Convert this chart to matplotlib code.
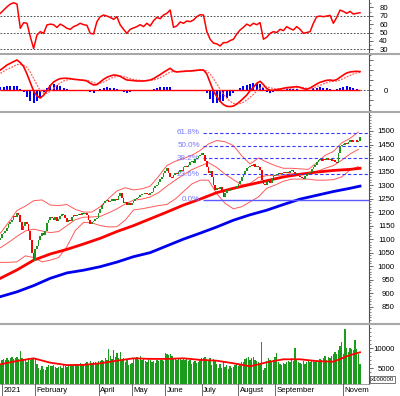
import numpy as np
import matplotlib
matplotlib.use('Agg')
import matplotlib.pyplot as plt
from matplotlib.lines import Line2D
from matplotlib.transforms import Bbox, TransformedBbox

plt.rcParams['font.family'] = ['Liberation Sans', 'DejaVu Sans']

# x axis is the trading-day index, day 0 = last session of 2020
month_days = [1, 21, 59, 79, 99, 121, 143, 165, 206]
month_names = ['2021', 'February', 'April', 'May', 'June', 'July', 'August',
               'September', 'November']

# daily closes (VN-Index)
closes = [
    1103, 1120, 1121, 1131, 1141, 1157, 1165, 1172, 1185, 1183,
    1196, 1188, 1165, 1134, 1150, 1162, 1155, 1130, 1095, 1050,
    1020, 1065, 1075, 1095, 1112, 1123, 1117, 1130, 1160, 1170,
    1180, 1178, 1172, 1180, 1168, 1175, 1185, 1192, 1190, 1178,
    1165, 1172, 1168, 1180, 1188, 1185, 1190, 1194, 1190, 1196,
    1192, 1197, 1190, 1170, 1155, 1162, 1168, 1175, 1178, 1195,
    1210, 1225, 1235, 1240, 1246, 1238, 1240, 1248, 1240, 1250,
    1245, 1258, 1270, 1252, 1235, 1238, 1228, 1232, 1225, 1235,
    1240, 1248, 1252, 1256, 1262, 1266, 1268, 1272, 1268, 1262,
    1270, 1275, 1288, 1295, 1300, 1312, 1322, 1330, 1345, 1352,
    1362, 1345, 1330, 1325, 1338, 1345, 1340, 1350, 1355, 1352,
    1365, 1370, 1368, 1375, 1385, 1390, 1382, 1395, 1400, 1408,
    1412, 1420, 1410, 1390, 1365, 1345, 1352, 1330, 1300, 1280,
    1290, 1285, 1292, 1278, 1255, 1270, 1282, 1278, 1285, 1280,
    1290, 1288, 1298, 1305, 1315, 1330, 1340, 1352, 1362, 1368,
    1372, 1370, 1378, 1368, 1372, 1365, 1355, 1320, 1305, 1300,
    1310, 1315, 1308, 1325, 1332, 1338, 1342, 1345, 1340, 1343,
    1350, 1346, 1350, 1345, 1352, 1355, 1348, 1340, 1345, 1335,
    1330, 1325, 1322, 1335, 1340, 1345, 1350, 1358, 1365, 1375,
    1385, 1392, 1395, 1390, 1398, 1394, 1400, 1392, 1395, 1388,
    1392, 1385, 1382, 1420, 1445, 1448, 1450, 1455, 1452, 1460,
    1465, 1458, 1465, 1468, 1460, 1462, 1478,
]
first_open = 1096

# daily volume (x100000)
volumes = [
    5800, 7200, 7300, 7000, 7500, 7200, 7600, 7800, 7400, 7700,
    7900, 7300, 9300, 7600, 7000, 7400, 6700, 7600, 7200, 7500,
    7600, 7400, 6000, 5100, 4700, 5600, 4800, 4600, 5400, 5800,
    5700, 5500, 5800, 5300, 5000, 5400, 5600, 5200, 6000, 5500,
    5300, 5800, 6000, 5700, 6200, 5900, 6100, 5600, 6300, 6000,
    5800, 6400, 6600, 6200, 6900, 6300, 6500, 6700, 6100, 6800,
    6900, 7200, 6800, 7500, 7000, 9800, 8200, 7400, 9500, 7800,
    8800, 7600, 9000, 7200, 7700, 6600, 7000, 5800, 6200, 6400,
    7600, 7300, 7900, 7000, 8000, 7200, 7500, 6900, 6700, 7300,
    7000, 6600, 6800, 6400, 7100, 6800, 7200, 7000, 6900, 8800,
    8700, 8400, 8600, 8200, 7600, 7300, 7000, 7400, 7700, 7200,
    7500, 7100, 7300, 6800, 7000, 6200, 6700, 6900, 6300, 6600,
    7200, 7700, 7500, 7800, 7400, 7000, 7600, 5900, 7300, 6800,
    6000, 5200, 6100, 5000, 6700, 5400, 5800, 4800, 5600, 5000,
    5300, 5900, 6000, 5500, 6200, 6500, 6700, 7300, 7600, 7800,
    7200, 7500, 7900, 7000, 6900, 6500, 6000, 11500, 4700, 5200,
    6800, 7500, 7000, 6600, 7200, 7800, 8900, 6500, 6000, 5800,
    6300, 6100, 6500, 6900, 6600, 7700, 6900, 10200, 7200, 6500,
    6400, 6000, 6800, 6200, 6500, 7000, 6700, 7100, 6800, 6600,
    7000, 6800, 7300, 7200, 7600, 8000, 7100, 7800, 7500, 8200,
    8700, 9200, 8600, 9600, 10500, 11500, 8500, 14800, 10000, 9000,
    10200, 9800, 9600, 12200, 9900, 8500, 6000,
]

# moving averages, sampled every 10 sessions
ma_days = [0, 10, 20, 30, 40, 50, 60, 70, 80, 90, 100, 110, 120, 130, 140,
           150, 160, 170, 180, 190, 200, 210, 216]
ma_red = [955, 986, 1022, 1045, 1062, 1082, 1103, 1128, 1150, 1175, 1200, 1226,
          1248, 1272, 1288, 1302, 1316, 1330, 1340, 1348, 1354, 1358, 1362]
ma_blue = [887, 905, 928, 955, 975, 985, 998, 1015, 1035, 1050, 1075, 1100,
           1122, 1145, 1170, 1190, 1207, 1228, 1248, 1262, 1276, 1288, 1296]
vol_ma = [6000, 6830, 7500, 6400, 5800, 5850, 6250, 6900, 7500, 7350, 7350, 7500,
          7100, 6900, 6250, 5500, 6500, 7250, 7250, 6800, 6650, 8300, 9000]

# bollinger bands, sampled every 5 sessions
bb_mid = [1068, 1088, 1110, 1130, 1137, 1130, 1124, 1128, 1150, 1172, 1181, 1182,
          1184, 1197, 1212, 1230, 1244, 1248, 1256, 1272, 1296, 1318, 1338, 1357,
          1370, 1383, 1365, 1340, 1320, 1300, 1306, 1328, 1335, 1335, 1338, 1342,
          1341, 1340, 1350, 1362, 1372, 1392, 1415, 1432]
bb_up = [1122, 1162, 1206, 1222, 1242, 1245, 1226, 1224, 1228, 1210, 1200, 1200,
         1220, 1250, 1278, 1290, 1282, 1286, 1296, 1332, 1372, 1388, 1398, 1410,
         1428, 1452, 1465, 1460, 1446, 1408, 1378, 1400, 1385, 1372, 1362, 1362,
         1360, 1358, 1382, 1410, 1424, 1456, 1473, 1496]
bb_lo = [1014, 1014, 1016, 1038, 1032, 1016, 1022, 1032, 1072, 1132, 1162, 1160,
         1150, 1145, 1146, 1170, 1208, 1212, 1218, 1224, 1228, 1248, 1276, 1304,
         1318, 1318, 1268, 1232, 1212, 1220, 1238, 1256, 1288, 1300, 1314, 1322,
         1322, 1322, 1318, 1318, 1320, 1330, 1356, 1368]

# RSI and MACD, sampled every 2 sessions
rsi = [
    72.8, 76.7, 80.6, 83.8, 85.4, 83.8, 55.0, 61.7, 61.0, 45.0,
    31.0, 47.0, 51.0, 49.0, 59.0, 60.0, 59.3, 56.0, 60.0, 57.8,
    55.0, 53.8, 57.0, 58.6, 61.0, 59.3, 58.6, 49.0, 48.3, 62.9,
    68.8, 70.8, 69.6, 68.0, 65.7, 68.8, 59.0, 53.8, 49.0, 53.8,
    55.4, 57.0, 59.3, 57.0, 61.0, 57.8, 64.0, 68.0, 66.4, 70.8,
    72.8, 76.7, 56.2, 57.8, 62.5, 61.0, 63.7, 62.9, 64.9, 68.8,
    71.2, 70.8, 51.0, 42.0, 37.3, 36.5, 34.0, 38.0, 38.0, 40.4,
    42.0, 48.3, 53.0, 56.2, 60.0, 57.8, 61.0, 59.3, 61.7, 42.0,
    44.4, 49.0, 51.0, 50.0, 53.8, 52.2, 57.0, 54.6, 53.0, 57.0,
    53.8, 49.0, 50.0, 51.0, 61.0, 68.8, 69.6, 68.8, 69.6, 70.4,
    61.0, 68.0, 76.7, 75.1, 72.8, 75.1, 72.0, 72.8, 73.5,
]
macd = [
    20.3, 22.7, 25.3, 27.0, 28.7, 30.3, 27.7, 23.7, 16.3, 7.7,
    -0.7, -5.7, -7.7, -5.0, -0.3, 4.7, 8.3, 10.3, 11.7, 12.0,
    12.0, 11.7, 11.0, 10.7, 10.3, 10.0, 9.3, 7.0, 5.3, 5.7,
    8.3, 11.0, 13.0, 14.3, 15.3, 15.0, 14.0, 12.0, 10.3, 10.0,
    9.7, 9.3, 9.3, 9.3, 9.7, 10.3, 11.7, 13.7, 15.7, 18.0,
    20.0, 22.0, 19.3, 18.3, 18.7, 19.0, 19.3, 19.3, 19.7, 20.0,
    20.3, 20.3, 16.3, 7.7, -0.7, -6.3, -11.0, -14.3, -16.0, -16.3,
    -15.7, -13.7, -11.0, -8.0, -4.7, -0.3, 3.0, 7.0, 9.0, 5.7,
    1.7, 0.0, 0.0, 0.7, 1.3, 2.0, 2.7, 3.0, 3.3, 3.7,
    3.0, 1.7, 1.0, 2.3, 4.3, 6.3, 8.0, 9.0, 10.0, 10.3,
    9.7, 10.7, 13.0, 15.3, 17.3, 18.3, 18.7, 19.0, 18.7,
]
signal = [
    17.0, 19.0, 21.0, 22.3, 24.0, 25.7, 26.0, 25.0, 23.0, 18.0,
    12.0, 5.3, -0.3, -3.0, -3.0, -1.0, 2.0, 5.0, 7.3, 9.3,
    10.3, 11.0, 11.0, 11.0, 10.7, 10.3, 10.0, 9.0, 7.7, 6.7,
    7.0, 8.3, 10.0, 11.7, 13.0, 14.0, 14.3, 13.7, 12.7, 11.7,
    10.7, 10.3, 10.0, 9.7, 9.7, 10.0, 10.3, 11.3, 12.7, 14.3,
    16.3, 18.3, 18.7, 18.7, 18.7, 18.7, 19.0, 19.0, 19.3, 19.7,
    20.0, 20.0, 19.3, 16.3, 11.7, 6.3, 1.0, -4.0, -8.0, -11.0,
    -13.0, -13.7, -13.3, -12.0, -9.7, -7.0, -4.0, -0.7, 2.3, 3.3,
    3.3, 2.7, 1.7, 1.3, 1.3, 1.3, 1.7, 2.0, 2.3, 2.7,
    2.7, 2.7, 2.0, 1.7, 2.3, 3.7, 5.0, 6.3, 7.7, 8.7,
    9.0, 9.3, 10.3, 11.7, 13.3, 15.0, 16.3, 17.3, 18.0,
]

# fibonacci retracement
fib_low, fib_high = 1245, 1647
fib_levels = [0.0, 23.6, 38.2, 50.0, 61.8]

W, H = 400, 396
XMIN, XMAX = -0.2, 221.4


def panel(fig, top, bottom):
    ax = fig.add_axes([0, 1 - bottom / H, 369 / W, (bottom - top) / H])
    for s in ['top', 'left', 'bottom']:
        ax.spines[s].set_visible(False)
    ax.spines['right'].set_color('#505050')
    ax.spines['right'].set_linewidth(0.8)
    ax.yaxis.tick_right()
    ax.tick_params(axis='y', which='major', length=3, width=0.6, colors='#505050',
                   labelcolor='black', labelsize=5.6)
    ax.tick_params(axis='y', which='minor', length=1.6, width=0.5, colors='#505050')
    ax.tick_params(axis='x', which='both', bottom=False, labelbottom=False)
    ax.set_xlim(XMIN, XMAX)
    return ax


def right_labels(ax, pad):
    ax.tick_params(axis='y', which='major', pad=pad)
    for lab in ax.get_yticklabels():
        lab.set_ha('right')


fig = plt.figure(figsize=(W / 100, H / 100), dpi=100)

ax_rsi = panel(fig, 0, 52.5)
ax_macd = panel(fig, 54.5, 110.5)
ax_main = panel(fig, 112.5, 322.5)
ax_vol = panel(fig, 324.5, 384)

days = np.arange(len(closes))
cl = np.array(closes, dtype=float)
op = np.concatenate([[first_open], cl[:-1]])

# RSI
x2 = np.arange(len(rsi)) * 2
for lvl in [30, 50, 70]:
    ax_rsi.axhline(lvl, color='#303030', lw=0.6, ls=(0, (2, 2)))
ax_rsi.plot(x2, rsi, color='#ff0000', lw=1.1)
ax_rsi.set_ylim(26.2, 88.7)
ax_rsi.set_yticks(range(30, 81, 10))
ax_rsi.set_yticks(range(30, 90, 5), minor=True)
right_labels(ax_rsi, 10.5)

# MACD
xm = np.arange(len(macd)) * 2
hist = np.array(macd) - np.array(signal)
ax_macd.axhline(0, color='#303030', lw=0.6, ls=(0, (2, 2)))
ax_macd.bar(xm, hist, width=1.2, color='#0000ff', linewidth=0)
ax_macd.hlines(0, xm[0], xm[-1], colors='#ff0000', lw=1.0, zorder=3)
ax_macd.plot(xm, signal, color='#ff6060', lw=0.9, ls=(0, (1.5, 1)), zorder=4)
ax_macd.plot(xm, macd, color='#ff0000', lw=1.2, zorder=5)
ax_macd.set_ylim(-20.2, 35.8)
ax_macd.set_yticks([-10, 0, 10, 20, 30])
ax_macd.set_yticklabels(['', '0', '', '', ''])
ax_macd.set_yticks(range(-20, 36, 5), minor=True)
right_labels(ax_macd, 10.5)

# main price panel
x5 = np.arange(len(bb_mid)) * 5
for band in [bb_up, bb_mid, bb_lo]:
    ax_main.plot(x5, band, color='#ff5a5a', lw=0.7)
ax_main.plot(ma_days, ma_blue, color='#0000ee', lw=2.0)
ax_main.plot(ma_days, ma_red, color='#ff0000', lw=2.0)

for p in fib_levels:
    price = fib_low + p / 100 * (fib_high - fib_low)
    if p == 0:
        ax_main.hlines(price, 121.5, XMAX, colors='#5a5aff', lw=1.0)
    else:
        ax_main.hlines(price, 121.5, XMAX, colors='#3c3cff', lw=0.8, linestyles=(0, (3, 2)))
    ax_main.text(119.8, price, '%.1f%%' % p, ha='right', va='center',
                 color='#7878ff', fontsize=5.8)

up = cl >= op
bottom = np.minimum(op, cl)
height = np.maximum(np.abs(cl - op), 2.5)
ax_main.bar(days[up], height[up], bottom=bottom[up], width=1.0, color='#1e961e',
            linewidth=0, zorder=4)
ax_main.bar(days[~up], height[~up], bottom=bottom[~up], width=1.0, color='#ff0000',
            linewidth=0, zorder=4)
ax_main.set_ylim(791.5, 1568.4)
ax_main.set_yticks(range(850, 1501, 50))
ax_main.set_yticks(range(800, 1561, 10), minor=True)
right_labels(ax_main, 15.6)

# volume
vdays = np.arange(len(volumes))
ax_vol.bar(vdays, volumes, width=0.8, color='#1c9c1c', linewidth=0)
ax_vol.plot(ma_days, vol_ma, color='#ff0000', lw=1.3)
ax_vol.set_ylim(1075, 15950)
ax_vol.set_yticks([5000, 10000])
ax_vol.set_yticks(range(2000, 15001, 1000), minor=True)
right_labels(ax_vol, 15.6)
ax_vol.spines['bottom'].set_visible(True)
ax_vol.spines['bottom'].set_color('#909090')
ax_vol.spines['bottom'].set_linewidth(0.6)

fig.text(371 / W, 1 - 379.5 / H, 'x100000', fontsize=4.3, ha='left', va='center',
         bbox=dict(boxstyle='square,pad=0.15', fc='white', ec='#404040', lw=0.5))

# panel separators
for y in [53.5, 111.5, 323.5]:
    fig.add_artist(Line2D([0, 1], [1 - y / H, 1 - y / H], color='#a8a8a8', lw=1.5))

# month ticks and labels under the volume panel
clip = TransformedBbox(Bbox([[0, 0], [369 / W, 1]]), fig.transFigure)
x_to_fig = ax_vol.transData + fig.transFigure.inverted()
for d, name in zip(month_days, month_names):
    fx = x_to_fig.transform((d, 5000))[0]
    fig.add_artist(Line2D([fx, fx], [1 - 384 / H, 0], color='#505050', lw=0.6))
    t = fig.text(fx + 1.5 / W, 1 - 390.5 / H, name, fontsize=5.6, ha='left', va='center')
    t.set_clip_box(clip)
    t.set_clip_on(True)

fig.savefig('out.png', dpi=100)
